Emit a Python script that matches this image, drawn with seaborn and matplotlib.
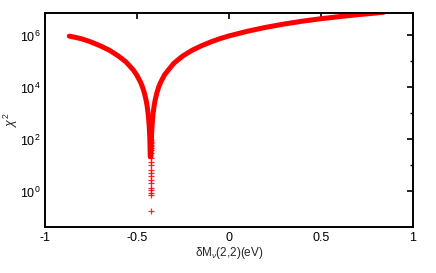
import numpy as np
import pandas as pd
import matplotlib
matplotlib.use("Agg")
import matplotlib.pyplot as plt
from matplotlib.ticker import NullFormatter
import seaborn as sns

# left branch of the chi^2 scan
left_x = [-0.868, -0.84, -0.80, -0.75, -0.70, -0.65, -0.60, -0.56, -0.52, -0.50,
          -0.48, -0.47, -0.46, -0.45, -0.445, -0.44, -0.437, -0.434, -0.432, -0.430,
          -0.428]
left_chi2 = [9.4e5, 8.6e5, 7.4e5, 5.6e5, 4.0e5, 2.7e5, 1.6e5, 9.6e4, 4.7e4, 2.9e4,
             1.55e4, 1.03e4, 6.2e3, 3.1e3, 1.95e3, 1.05e3, 650, 345, 195, 87,
             22]

# right branch
right_x = [-0.424, -0.422, -0.420, -0.418, -0.415, -0.412, -0.407, -0.402, -0.392, -0.382,
           -0.372, -0.35, -0.30, -0.25, -0.20, -0.15, -0.10, -0.05, 0.0, 0.1,
           0.2, 0.3, 0.4, 0.5, 0.6, 0.7, 0.8, 0.84]
right_chi2 = [22, 87, 195, 345, 650, 1.05e3, 1.95e3, 3.1e3, 6.2e3, 1.05e4,
              1.55e4, 3.1e4, 8.5e4, 1.65e5, 2.7e5, 4.0e5, 5.6e5, 7.5e5, 9.6e5, 1.45e6,
              2.05e6, 2.75e6, 3.55e6, 4.4e6, 5.3e6, 6.3e6, 7.3e6, 7.8e6]

# scattered points near the minimum
min_x = [-0.426, -0.4262, -0.4258, -0.426, -0.4261, -0.4259, -0.426, -0.426, -0.4261, -0.4259,
         -0.426, -0.426, -0.426, -0.4261, -0.426, -0.4259, -0.426, -0.426, -0.426]
min_chi2 = [97, 80, 73, 60, 54, 46, 40, 30, 19, 14,
            10.6, 6.8, 5.1, 3.8, 2.8, 2.1, 1.35, 1.16, 0.87]
min_extra_x = [-0.426, -0.426]
min_extra_chi2 = [0.75, 0.17]

left = pd.DataFrame({"x": left_x, "chi2": left_chi2})
right = pd.DataFrame({"x": right_x, "chi2": right_chi2})
pts = pd.DataFrame({"x": min_x + min_extra_x, "chi2": min_chi2 + min_extra_chi2})

sns.set_style("white")
plt.rcParams["font.family"] = ["Liberation Sans", "DejaVu Sans"]
plt.rcParams["mathtext.fontset"] = "custom"
plt.rcParams["mathtext.rm"] = "Liberation Sans"
plt.rcParams["mathtext.it"] = "Liberation Sans:italic"

fig = plt.figure(figsize=(4.36, 2.73), dpi=100)
ax = fig.add_axes([45 / 436, 46 / 273, 368 / 436, 214 / 273])

red = "#ff0000"
sns.lineplot(data=left, x="x", y="chi2", color=red, lw=3.6, ax=ax, sort=False)
sns.lineplot(data=right, x="x", y="chi2", color=red, lw=3.6, ax=ax, sort=False)
sns.scatterplot(data=pts, x="x", y="chi2", color=red, marker="+", s=20,
                linewidth=0.9, alpha=0.85, ax=ax)

ax.set_yscale("log")
ax.set_xlim(-1, 1)
ax.set_ylim(0.043, 7.3e6)
ax.set_xticks([-1, -0.5, 0, 0.5, 1])
ax.set_xticklabels(["-1", "-0.5", "0", "0.5", "1"])
ax.set_yticks([1, 1e2, 1e4, 1e6])
ax.set_yticklabels([r"$10^{0}$", r"$10^{2}$", r"$10^{4}$", r"$10^{6}$"])
ax.set_yticks([10, 1e3, 1e5], minor=True)
ax.yaxis.set_minor_formatter(NullFormatter())

ax.tick_params(axis="both", which="both", direction="in", top=True, right=True,
               labelsize=9, colors="black")
ax.tick_params(which="major", length=4, width=1.2)
ax.tick_params(which="minor", length=2.5, width=1.0)
for s in ax.spines.values():
    s.set_linewidth(1.4)
    s.set_color("black")

ax.set_xlabel(r"δM$_{\nu}$(2,2)(eV)", fontsize=8.5, labelpad=1)
ax.set_ylabel(r"$\chi^2$", fontsize=9, labelpad=0)

fig.savefig("out.png", dpi=100)
